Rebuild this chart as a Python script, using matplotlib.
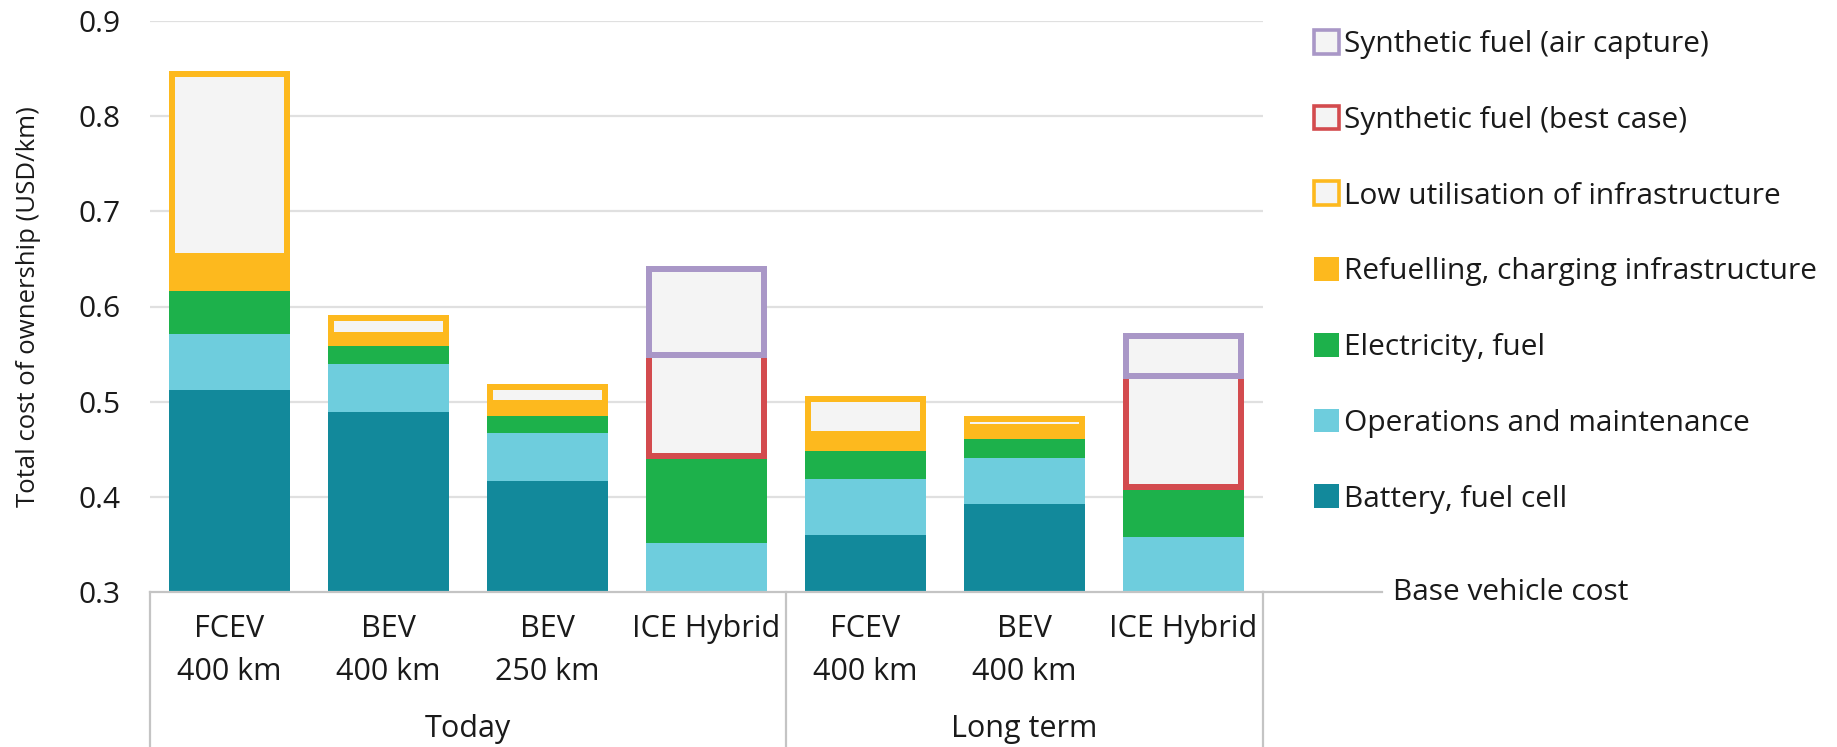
import matplotlib
matplotlib.use("Agg")
import matplotlib.pyplot as plt
from matplotlib.patches import Patch
import numpy as np

plt.rcParams['font.family'] = ['Open Sans', 'DejaVu Sans']

# ---------------- data ----------------
categories = ["FCEV\n400 km", "BEV\n400 km", "BEV\n250 km", "ICE Hybrid",
              "FCEV\n400 km", "BEV\n400 km", "ICE Hybrid"]
group_names = ["Today", "Long term"]
group_sizes = [4, 3]

axis_floor = 0.30   # base vehicle cost sits below the visible axis floor
battery = [0.212, 0.189, 0.117, 0.000, 0.060, 0.092, 0.000]
operations = [0.059, 0.051, 0.050, 0.052, 0.059, 0.049, 0.058]
electricity = [0.045, 0.018, 0.018, 0.088, 0.029, 0.020, 0.049]
refuelling = [0.034, 0.009, 0.010, 0.000, 0.015, 0.009, 0.000]
low_util = [0.197, 0.024, 0.024, 0.000, 0.043, 0.015, 0.000]
synth_best = [0.000, 0.000, 0.000, 0.106, 0.000, 0.000, 0.117]
synth_air = [0.000, 0.000, 0.000, 0.097, 0.000, 0.000, 0.048]

yticks = [0.3, 0.4, 0.5, 0.6, 0.7, 0.8, 0.9]

solid_series = [
    (battery, "Battery, fuel cell", "#12899b"),
    (operations, "Operations and maintenance", "#6ecddd"),
    (electricity, "Electricity, fuel", "#1db14b"),
    (refuelling, "Refuelling, charging infrastructure", "#fdb91e"),
]
outline_series = [
    (low_util, "Low utilisation of infrastructure", "#fdb91e"),
    (synth_best, "Synthetic fuel (best case)", "#d34b4e"),
    (synth_air, "Synthetic fuel (air capture)", "#a997c7"),
]
box_fill = "#f4f4f4"
text_color = "#1a1a1a"
line_gray = "#c4c4c4"
grid_gray = "#e0e0e0"

# ---------------- figure ----------------
W, H = 1837, 747
fig = plt.figure(figsize=(W / 100, H / 100), dpi=100)
ax = fig.add_axes([150 / W, 155 / H, 1113 / W, 571 / H])

n = len(categories)
x = np.arange(n)
bar_w = 0.755
ax.set_xlim(-0.5, n - 0.5)
ax.set_ylim(yticks[0], yticks[-1])

# pixel -> data conversion for the inner frame of outlined boxes
p0 = ax.transData.transform((0, 0.3))
p1 = ax.transData.transform((1, 0.4))
px_per_x = p1[0] - p0[0]
px_per_y = (p1[1] - p0[1]) / 0.1
frame_px = 6
dx = frame_px / px_per_x
dy = frame_px / px_per_y

bottom = np.full(n, axis_floor)
for vals, label, col in solid_series:
    v = np.array(vals)
    ax.bar(x, v, bar_w, bottom=bottom, color=col, linewidth=0, zorder=3)
    bottom = bottom + v

for k, (vals, label, col) in enumerate(outline_series):
    v = np.array(vals)
    mask = v > 0
    ax.bar(x[mask], v[mask], bar_w, bottom=bottom[mask], color=col,
           linewidth=0, zorder=3 + k * 0.1)
    # segment stacked directly above? then no top frame
    if k + 1 < len(outline_series):
        above = np.array(outline_series[k + 1][0]) > 0
    else:
        above = np.zeros(n, dtype=bool)
    top_inset = np.where(above, 0.0, dy)
    inner_h = v - dy - top_inset
    ax.bar(x[mask], inner_h[mask], bar_w - 2 * dx,
           bottom=(bottom + dy)[mask], color=box_fill, linewidth=0,
           zorder=3.05 + k * 0.1)
    bottom = bottom + v

# grid and spines
ax.set_yticks(yticks)
ax.set_yticklabels([f"{t:.1f}" for t in yticks], fontsize=21.5, color=text_color)
ax.tick_params(axis='y', length=0, pad=21)
ax.set_xticks([])
for t in yticks[1:]:
    ax.axhline(t, color=grid_gray, lw=1.6, zorder=1)
for s in ["top", "right", "left"]:
    ax.spines[s].set_visible(False)
ax.spines["bottom"].set_color(line_gray)
ax.spines["bottom"].set_linewidth(1.6)
ax.spines["bottom"].set_zorder(4)

# category labels
xt = ax.get_xaxis_transform()
for i, c in enumerate(categories):
    lines = c.split("\n")
    ax.text(i, -0.064, lines[0], transform=xt, ha="center", va="center",
            fontsize=22, color=text_color)
    if len(lines) > 1:
        ax.text(i, -0.140, lines[1], transform=xt, ha="center", va="center",
                fontsize=22, color=text_color)

# group separators and labels
start = 0
seps = [-0.5]
for g, size in zip(group_names, group_sizes):
    center = start + (size - 1) / 2
    ax.text(center, -0.240, g, transform=xt, ha="center", va="center",
            fontsize=22, color=text_color)
    start += size
    seps.append(start - 0.5)
for sx in seps:
    ax.plot([sx, sx], [0, -0.28], transform=xt, color=line_gray, lw=1.6,
            clip_on=False, zorder=4)

# base vehicle cost label
ax.plot([1.0, 1.107], [0, 0], transform=ax.transAxes, color=line_gray,
        lw=1.6, clip_on=False, zorder=4)
ax.text(1.117, 0, "Base vehicle cost", transform=ax.transAxes, ha="left",
        va="center", fontsize=21.5, color=text_color)

# y label
fig.text(29 / W, 1 - 307 / H, "Total cost of ownership (USD/km)", rotation=90,
         ha="center", va="center", fontsize=18.5, color=text_color)

# legend
handles = []
labels = []
for vals, label, col in outline_series[::-1]:
    handles.append(Patch(facecolor=box_fill, edgecolor=col, linewidth=2.6))
    labels.append(label)
for vals, label, col in solid_series[::-1]:
    handles.append(Patch(facecolor=col, edgecolor="none"))
    labels.append(label)
leg = fig.legend(handles, labels, loc="upper left",
                 bbox_to_anchor=(1314 / W, 1 - 30 / H),
                 frameon=False, fontsize=21.5, borderpad=0, borderaxespad=0,
                 handlelength=0.84, handleheight=0.84, handletextpad=0.15,
                 labelspacing=1.56)
for t in leg.get_texts():
    t.set_color(text_color)

fig.savefig("out.png", dpi=100)
